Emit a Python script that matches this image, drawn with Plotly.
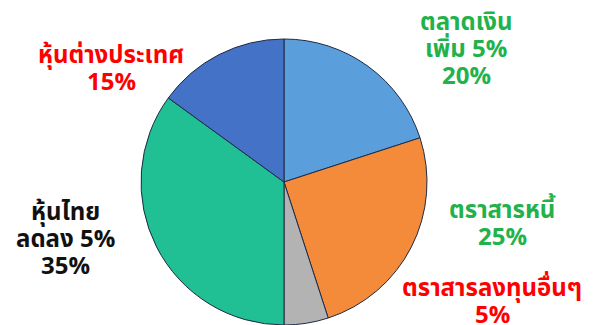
import plotly.graph_objects as go

categories = ["ตลาดเงิน", "ตราสารหนี้", "ตราสารลงทุนอื่นๆ", "หุ้นไทย", "หุ้นต่างประเทศ"]
values = [20, 25, 5, 35, 15]
label_lines = [
    ["ตลาดเงิน", "เพิ่ม 5%", "20%"],
    ["ตราสารหนี้", "25%"],
    ["ตราสารลงทุนอื่นๆ", "5%"],
    ["หุ้นไทย", "ลดลง 5%", "35%"],
    ["หุ้นต่างประเทศ", "15%"],
]
slice_colors = ["#5A9FDB", "#F38B3B", "#B3B3B3", "#21BF94", "#4472C6"]
label_colors = ["#22B24C", "#22B24C", "#FF0000", "#111111", "#FF0000"]
# label block centre x and first-line y (pixels), line step
label_pos = [(466, 23), (502, 211), (492, 289), (65, 213), (111, 56)]
line_step = 27

W, H = 593, 325
fig = go.Figure(go.Pie(
    labels=categories, values=values, sort=False, direction="clockwise", rotation=0,
    marker=dict(colors=slice_colors, line=dict(color="#1E2A46", width=1)),
    textinfo="none", hoverinfo="label+percent", showlegend=False,
    domain=dict(x=[141 / W, 427 / W], y=[0, 286 / H]),
))

for lines, col, (x, y0) in zip(label_lines, label_colors, label_pos):
    for i, ln in enumerate(lines):
        y = y0 + i * line_step
        fig.add_annotation(x=x / W, y=1 - y / H, xref="paper", yref="paper",
                           text="<b>" + ln + "</b>", showarrow=False,
                           font=dict(size=24, color=col, family="Noto Sans Thai, Noto Sans, sans-serif"),
                           align="center", xanchor="center", yanchor="middle")

fig.update_layout(width=W, height=H, margin=dict(l=0, r=0, t=0, b=0),
                  paper_bgcolor="white", plot_bgcolor="white")
fig.write_html("out.html")
